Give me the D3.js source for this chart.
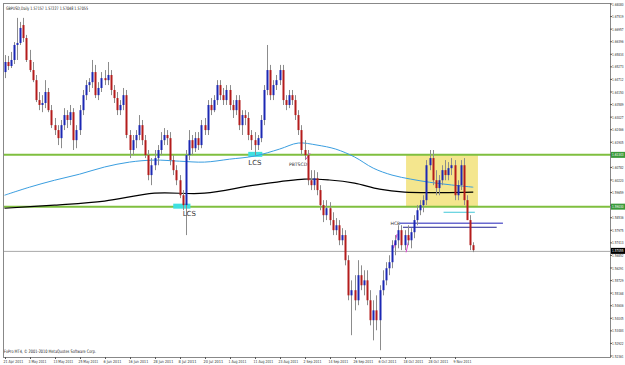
<!DOCTYPE html>
<html><head><meta charset="utf-8">
<script src="https://cdn.jsdelivr.net/npm/d3@7"></script>
<style>body{margin:0;background:#fff;}svg{display:block;font-family:Tahoma,"DejaVu Sans",sans-serif;}</style>
</head><body><svg id="c" width="625" height="365"></svg>
<script>
const title = "GBPUSD,Daily  1.57157 1.57227 1.57048 1.57055";
const copyright = "FxPro MT4, © 2001-2010 MetaQuotes Software Corp.";
const priceTicks = ["1.68080","1.67519","1.66957","1.66396","1.65834","1.65273","1.64712","1.64150","1.63589","1.63027","1.62466","1.61905","1.61343","1.60782","1.60220","1.59659","1.59098","1.58536","1.57975","1.57413","1.56852","1.56291","1.55729","1.55168","1.54606","1.54045","1.53484","1.52922","1.52361"];
const dateTicks = ["21 Apr 2011","3 May 2011","13 May 2011","25 May 2011","6 Jun 2011","16 Jun 2011","28 Jun 2011","8 Jul 2011","20 Jul 2011","1 Aug 2011","11 Aug 2011","23 Aug 2011","2 Sep 2011","14 Sep 2011","26 Sep 2011","6 Oct 2011","18 Oct 2011","28 Oct 2011","9 Nov 2011"];
const dateTickBars = [0,8,16,24,32,40,48,56,64,72,80,88,96,104,112,120,128,136,144];
const open = [1.6504,1.6549,1.6531,1.6558,1.6625,1.6634,1.6714,1.6656,1.6558,1.6513,1.6468,1.6379,1.6357,1.6366,1.6415,1.6334,1.6267,1.6245,1.6209,1.6267,1.6312,1.6290,1.6325,1.6200,1.6245,1.6334,1.6401,1.6446,1.6459,1.6504,1.6401,1.6433,1.6477,1.6468,1.6491,1.6424,1.6388,1.6334,1.6357,1.6401,1.6223,1.6156,1.6200,1.6223,1.6267,1.6200,1.6133,1.6044,1.6088,1.6120,1.6156,1.6200,1.6223,1.6209,1.6111,1.6066,1.6021,1.5954,1.5910,1.6133,1.6200,1.6164,1.6209,1.6178,1.6267,1.6245,1.6357,1.6334,1.6379,1.6446,1.6401,1.6379,1.6424,1.6357,1.6334,1.6379,1.6267,1.6312,1.6299,1.6223,1.6200,1.6178,1.6209,1.6290,1.6424,1.6513,1.6401,1.6446,1.6468,1.6513,1.6379,1.6357,1.6401,1.6379,1.6312,1.6245,1.6156,1.6133,1.6021,1.5999,1.6030,1.5977,1.5910,1.5865,1.5896,1.5843,1.5798,1.5820,1.5753,1.5776,1.5664,1.5507,1.5530,1.5485,1.5597,1.5552,1.5574,1.5485,1.5396,1.5440,1.5396,1.5530,1.5574,1.5628,1.5655,1.5731,1.5753,1.5798,1.5731,1.5776,1.5753,1.5789,1.5843,1.5887,1.5910,1.5932,1.6088,1.6120,1.6021,1.5986,1.6021,1.6066,1.6044,1.6075,1.6088,1.5954,1.5999,1.6088,1.5932,1.5843,1.5731];
const high = [1.6580,1.6576,1.6594,1.6638,1.6746,1.6728,1.6746,1.6670,1.6603,1.6549,1.6491,1.6415,1.6401,1.6468,1.6433,1.6357,1.6299,1.6267,1.6290,1.6343,1.6334,1.6357,1.6343,1.6267,1.6357,1.6424,1.6468,1.6477,1.6558,1.6536,1.6459,1.6504,1.6513,1.6549,1.6513,1.6446,1.6415,1.6379,1.6433,1.6424,1.6245,1.6223,1.6245,1.6312,1.6290,1.6223,1.6156,1.6120,1.6156,1.6178,1.6236,1.6254,1.6245,1.6236,1.6133,1.6088,1.6044,1.5977,1.6156,1.6245,1.6223,1.6236,1.6236,1.6290,1.6299,1.6379,1.6388,1.6401,1.6468,1.6468,1.6433,1.6446,1.6446,1.6379,1.6401,1.6401,1.6334,1.6334,1.6325,1.6245,1.6236,1.6223,1.6312,1.6446,1.6625,1.6536,1.6468,1.6491,1.6536,1.6536,1.6401,1.6424,1.6424,1.6401,1.6334,1.6267,1.6200,1.6156,1.6066,1.6066,1.6057,1.5999,1.5932,1.5932,1.5923,1.5878,1.5852,1.5843,1.5807,1.5798,1.5686,1.5574,1.5597,1.5664,1.5641,1.5619,1.5619,1.5530,1.5485,1.5507,1.5552,1.5619,1.5655,1.5686,1.5753,1.5776,1.5820,1.5820,1.5798,1.5820,1.5807,1.5865,1.5910,1.5932,1.5954,1.6111,1.6156,1.6156,1.6066,1.6044,1.6088,1.6111,1.6102,1.6120,1.6111,1.6021,1.6111,1.6120,1.5954,1.5865,1.5744];
const low = [1.6477,1.6513,1.6522,1.6540,1.6558,1.6625,1.6638,1.6549,1.6504,1.6459,1.6370,1.6334,1.6325,1.6343,1.6325,1.6254,1.6223,1.6178,1.6164,1.6245,1.6254,1.6267,1.6156,1.6164,1.6223,1.6312,1.6379,1.6415,1.6433,1.6388,1.6379,1.6415,1.6446,1.6446,1.6401,1.6366,1.6312,1.6312,1.6334,1.6209,1.6120,1.6133,1.6164,1.6200,1.6178,1.6120,1.6021,1.5999,1.6066,1.6088,1.6133,1.6178,1.6178,1.6088,1.6044,1.5999,1.5941,1.5887,1.5776,1.6111,1.6133,1.6147,1.6156,1.6164,1.6223,1.6223,1.6312,1.6325,1.6357,1.6379,1.6357,1.6357,1.6334,1.6299,1.6312,1.6245,1.6223,1.6267,1.6200,1.6156,1.6133,1.6156,1.6191,1.6267,1.6401,1.6379,1.6379,1.6424,1.6446,1.6357,1.6334,1.6343,1.6357,1.6290,1.6223,1.6133,1.6111,1.5999,1.5977,1.5977,1.5954,1.5887,1.5834,1.5843,1.5820,1.5776,1.5776,1.5731,1.5731,1.5641,1.5485,1.5329,1.5440,1.5463,1.5530,1.5507,1.5463,1.5373,1.5306,1.5351,1.5262,1.5507,1.5552,1.5597,1.5628,1.5686,1.5717,1.5709,1.5709,1.5731,1.5717,1.5762,1.5820,1.5865,1.5878,1.5910,1.6066,1.5999,1.5954,1.5954,1.5999,1.6021,1.6021,1.6044,1.5932,1.5932,1.5977,1.5910,1.5843,1.5709,1.5700];
const close = [1.6549,1.6531,1.6558,1.6625,1.6634,1.6701,1.6656,1.6558,1.6513,1.6468,1.6379,1.6357,1.6366,1.6415,1.6334,1.6267,1.6245,1.6209,1.6267,1.6312,1.6290,1.6325,1.6200,1.6245,1.6334,1.6401,1.6446,1.6459,1.6504,1.6401,1.6433,1.6477,1.6468,1.6491,1.6424,1.6388,1.6334,1.6357,1.6401,1.6223,1.6156,1.6200,1.6223,1.6267,1.6200,1.6133,1.6044,1.6088,1.6120,1.6156,1.6200,1.6223,1.6209,1.6111,1.6066,1.6021,1.5954,1.5910,1.6133,1.6200,1.6164,1.6209,1.6178,1.6267,1.6245,1.6357,1.6334,1.6379,1.6446,1.6401,1.6379,1.6424,1.6357,1.6334,1.6379,1.6267,1.6312,1.6299,1.6223,1.6200,1.6178,1.6209,1.6290,1.6424,1.6513,1.6401,1.6446,1.6468,1.6513,1.6379,1.6357,1.6401,1.6379,1.6312,1.6245,1.6156,1.6133,1.6021,1.5999,1.6030,1.5977,1.5910,1.5865,1.5896,1.5843,1.5798,1.5820,1.5753,1.5776,1.5664,1.5507,1.5530,1.5485,1.5597,1.5552,1.5574,1.5485,1.5396,1.5440,1.5396,1.5530,1.5574,1.5628,1.5655,1.5731,1.5753,1.5798,1.5731,1.5776,1.5753,1.5789,1.5843,1.5887,1.5910,1.5932,1.6088,1.6120,1.6021,1.5986,1.6021,1.6066,1.6044,1.6075,1.6088,1.5954,1.5999,1.6088,1.5932,1.5843,1.5731,1.5709];
const maBlueBars = [0,8,16,24,32,40,48,56,64,72,80,88,94,100,106,112,118,124,130,136,143,150];
const maBlue = [1.5954,1.5990,1.6021,1.6048,1.6080,1.6102,1.6111,1.6106,1.6102,1.6115,1.6129,1.6160,1.6187,1.6178,1.6160,1.6125,1.6075,1.6044,1.6026,1.6012,1.6000,1.5990];
const maBlackBars = [0,16,32,48,64,80,96,104,112,120,128,140,150];
const maBlack = [1.5896,1.5910,1.5928,1.5963,1.5963,1.5999,1.6026,1.6022,1.6008,1.5981,1.5968,1.5966,1.5968];
const levelHigh = 1.61343, levelLow = 1.59030, lastPrice = 1.57055;
const levelHighLabel = "1.61343", levelLowLabel = "1.59030", lastLabel = "1.57055";
// short magenta trend marks: [barFrom, priceFrom, barTo, priceTo]
const pinkMarks = [[96.5,1.6115,97.8,1.6142],[124.5,1.5717,125.6,1.5780],[128.5,1.5699,129.5,1.5762]];

const svg = d3.select("#c");
const L = 3, R = 610, T = 3, B = 357;
const y = d3.scaleLinear().domain([+priceTicks[28], +priceTicks[0]]).range([356, 4]);
const x = d3.scaleLinear().domain([0, 150]).range([4.5, 473.25]);

svg.append("rect").attr("x",0).attr("y",0).attr("width",625).attr("height",365).attr("fill","#fff");
const g = svg.append("g");
g.append("clipPath").attr("id","clip").append("rect").attr("x",L).attr("y",T).attr("width",R-L).attr("height",B-T);
const p = g.append("g").attr("clip-path","url(#clip)");

p.append("rect").attr("x", x(128.5)).attr("y", y(levelHigh)).attr("width", x(151.5)-x(128.5)).attr("height", y(levelLow)-y(levelHigh)).attr("fill","#f4e68e");

[levelHigh, levelLow].forEach(v => {
  p.append("line").attr("x1",L).attr("x2",R).attr("y1",y(v)).attr("y2",y(v)).attr("stroke","#7fbf3f").attr("stroke-width",2);
});
p.append("line").attr("x1",L).attr("x2",R).attr("y1",y(lastPrice)+0.5).attr("y2",y(lastPrice)+0.5).attr("stroke","#a8a8a8").attr("stroke-width",1);

p.append("rect").attr("x",x(54)).attr("y",y(levelLow)-3).attr("width",x(59.5)-x(54)).attr("height",5).attr("fill","#3fe0e0");
p.append("rect").attr("x",x(78)).attr("y",y(levelHigh)-3).attr("width",x(82.5)-x(78)).attr("height",5).attr("fill","#3fe0e0");
p.append("line").attr("x1",x(140.5)).attr("x2",x(150.5)).attr("y1",y(1.5878)).attr("y2",y(1.5878)).attr("stroke","#40c8d8").attr("stroke-width",1);
p.append("line").attr("x1",x(126.5)).attr("x2",x(159.5)).attr("y1",y(1.5829)).attr("y2",y(1.5829)).attr("stroke","#6a6ad0").attr("stroke-width",1.3);
p.append("line").attr("x1",x(127.5)).attr("x2",x(157.5)).attr("y1",y(1.5811)).attr("y2",y(1.5811)).attr("stroke","#202090").attr("stroke-width",1);

const lineGen = d3.line().x(d=>x(d[0])).y(d=>y(d[1])).curve(d3.curveCatmullRom);
p.append("path").datum(maBlueBars.map((b,i)=>[b,maBlue[i]])).attr("d",lineGen).attr("fill","none").attr("stroke","#3a9ee0").attr("stroke-width",1);
p.append("path").datum(maBlackBars.map((b,i)=>[b,maBlack[i]])).attr("d",lineGen).attr("fill","none").attr("stroke","#000").attr("stroke-width",1.2);

pinkMarks.forEach(m => {
  p.append("line").attr("x1",x(m[0])).attr("y1",y(m[1])).attr("x2",x(m[2])).attr("y2",y(m[3])).attr("stroke","#e040d0").attr("stroke-width",1);
});

const idx = d3.range(open.length);
p.selectAll("line.w").data(idx).join("line").attr("class","w")
  .attr("x1",i=>Math.round(x(i))+0.5).attr("x2",i=>Math.round(x(i))+0.5)
  .attr("y1",i=>y(high[i])).attr("y2",i=>y(low[i]))
  .attr("stroke","#8c8c8c").attr("stroke-width",1);
p.selectAll("rect.b").data(idx).join("rect").attr("class","b")
  .attr("x",i=>Math.round(x(i))-0.5).attr("width",2)
  .attr("y",i=>y(Math.max(open[i],close[i])))
  .attr("height",i=>Math.max(1,Math.abs(y(open[i])-y(close[i]))))
  .attr("fill",i=>close[i]>=open[i]?"#1c28b4":"#b41c1c");

p.append("text").attr("x",x(57)).attr("y",y(levelLow)+9).text("LCS").attr("font-size",7).attr("fill","#333");
p.append("text").attr("x",x(78)).attr("y",y(levelHigh)+10).text("LCS").attr("font-size",7).attr("fill","#333");
p.append("text").attr("x",x(91)).attr("y",y(levelHigh)+11).text("PBTSCD").attr("font-size",4.6).attr("fill","#333");
p.append("text").attr("x",x(123.5)).attr("y",y(1.5829)+1.5).text("HCB").attr("font-size",4.6).attr("fill","#333");

g.append("rect").attr("x",L+0.5).attr("y",T+0.5).attr("width",R-L).attr("height",B-T).attr("fill","none").attr("stroke","#888");

const ax = g.append("g");
const boxes = [[levelHigh,levelHighLabel,"#3a9a3a"],[levelLow,levelLowLabel,"#3a9a3a"],[lastPrice,lastLabel,"#000"]];
priceTicks.forEach(t => {
  ax.append("line").attr("x1",R).attr("x2",R+2).attr("y1",y(+t)).attr("y2",y(+t)).attr("stroke","#555");
  const hidden = boxes.slice(0,2).some(b => Math.abs(y(b[0]) - y(+t)) < 5);
  if (!hidden) ax.append("text").attr("x",R+2).attr("y",y(+t)+1.6).text(t).attr("font-size",4)
    .attr("textLength",11.5).attr("lengthAdjust","spacingAndGlyphs").attr("fill","#333");
});
boxes.forEach(d=>{
  ax.append("rect").attr("x",R+1).attr("y",y(d[0])-3).attr("width",14).attr("height",6).attr("fill",d[2]);
  ax.append("text").attr("x",R+2).attr("y",y(d[0])+1.6).text(d[1]).attr("font-size",4)
    .attr("textLength",11.5).attr("lengthAdjust","spacingAndGlyphs").attr("fill","#fff");
});

dateTicks.forEach((t,i) => {
  const xx = Math.round(x(dateTickBars[i]))+0.5;
  ax.append("line").attr("x1",xx).attr("x2",xx).attr("y1",B).attr("y2",B+2).attr("stroke","#555");
  ax.append("text").attr("x",Math.max(1,xx-2)).attr("y",B+6).text(t).attr("font-size",4)
    .attr("textLength",t.length*1.8).attr("lengthAdjust","spacingAndGlyphs").attr("fill","#333");
});

svg.append("text").attr("x",6).attr("y",10).text(title).attr("font-size",4.6)
  .attr("textLength",82).attr("lengthAdjust","spacingAndGlyphs").attr("fill","#222");
svg.append("text").attr("x",4).attr("y",353).text(copyright).attr("font-size",4.6)
  .attr("textLength",92).attr("lengthAdjust","spacingAndGlyphs").attr("fill","#222");
</script></body></html>
